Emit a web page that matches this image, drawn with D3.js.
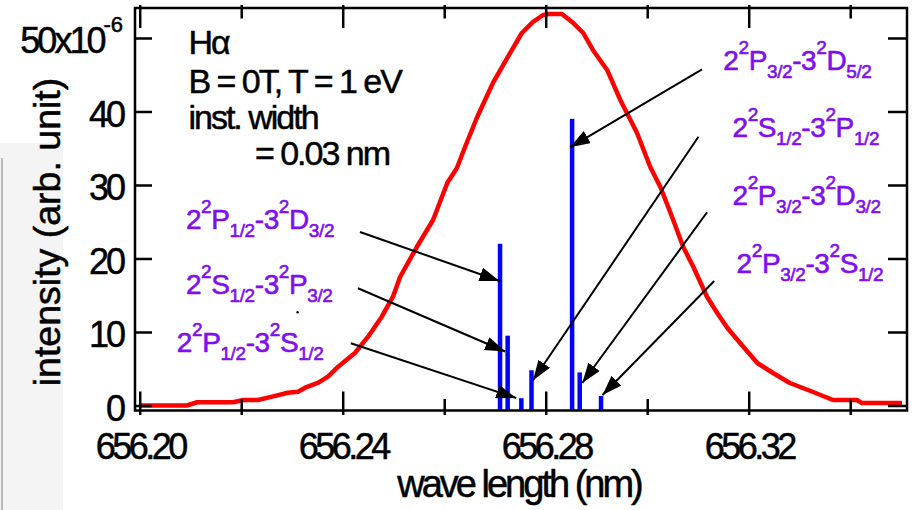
<!DOCTYPE html>
<html>
<head>
<meta charset="utf-8">
<script src="https://cdn.jsdelivr.net/npm/d3@7"></script>
<style>
  html, body { margin: 0; padding: 0; background: #ffffff; }
  svg { display: block; font-family: "Liberation Sans", Arial, Helvetica, sans-serif; }
</style>
</head>
<body>
<svg id="chart" width="914" height="510"></svg>
<script>
// ---- Hα line profile (wavelength in nm, intensity in units of 1e-6) ----
const profileWavelength = [
  656.2000, 656.2093, 656.2113, 656.2184, 656.2204, 656.2233, 656.2261, 656.2292,
  656.2312, 656.2326, 656.2352, 656.2371, 656.2391, 656.2424, 656.2450, 656.2477,
  656.2499, 656.2513, 656.2546, 656.2578, 656.2606, 656.2625, 656.2641, 656.2665,
  656.2696, 656.2730, 656.2753, 656.2775, 656.2795, 656.2805, 656.2832, 656.2852,
  656.2874, 656.2893, 656.2921, 656.2947, 656.2980, 656.3006, 656.3026, 656.3049,
  656.3071, 656.3091, 656.3118, 656.3138, 656.3158, 656.3183, 656.3217, 656.3248,
  656.3281, 656.3327, 656.3366, 656.3413, 656.3423, 656.3502
];
const profileIntensity = [
  0.00, 0.00, 0.44, 0.44, 0.75, 0.75, 1.20, 1.74,
  1.88, 2.42, 3.10, 3.92, 5.28, 7.14, 9.36, 12.08,
  14.80, 17.48, 21.56, 25.24, 30.27, 32.31, 35.17, 39.25,
  43.88, 47.96, 50.68, 52.18, 53.13, 53.27, 53.27, 52.18,
  50.68, 48.37, 45.65, 41.56, 37.07, 32.45, 29.73, 25.65,
  21.56, 18.84, 14.76, 12.59, 10.54, 8.50, 5.78, 4.42,
  3.06, 1.84, 0.75, 0.75, 0.34, 0.34
];

// ---- Fine-structure components ----
const componentWavelength = [656.2710, 656.2725, 656.2752, 656.2772, 656.2852, 656.2867, 656.2909];
const componentIntensity  = [22.0, 9.5, 1.0, 4.8, 39.0, 4.5, 1.3];
const componentNames = [
  "2^{2}P_{1/2}-3^{2}D_{3/2}",
  "2^{2}S_{1/2}-3^{2}P_{3/2}",
  "2^{2}P_{1/2}-3^{2}S_{1/2}",
  "2^{2}S_{1/2}-3^{2}P_{1/2}",
  "2^{2}P_{3/2}-3^{2}D_{5/2}",
  "2^{2}P_{3/2}-3^{2}D_{3/2}",
  "2^{2}P_{3/2}-3^{2}S_{1/2}"
];

// ---- Axis ticks ----
const xTickValues = [656.20, 656.24, 656.28, 656.32];
const xTickLabels = ["656.20", "656.24", "656.28", "656.32"];
const xMinorTicks = [656.22, 656.26, 656.30, 656.34];
const yTickValues = [0, 10, 20, 30, 40, 50];
const yTickLabels = ["0", "10", "20", "30", "40", "50x10"];
const yTopExponent = "-6";

// ---- Notes in the upper-left corner ----
const noteLines = ["H\u03b1", "B = 0T, T = 1 eV", "inst. width", "= 0.03 nm"];

// ---- Annotation layout, in data coordinates (wavelength, intensity) ----
// label: left edge / baseline; arrow: tail -> head
const labelAnchor = [
  [656.2091, 23.97], [656.2091, 15.17], [656.2073, 7.32], [656.3168, 36.49],
  [656.3150, 45.65], [656.3168, 27.28], [656.3176, 18.07]
];
const arrowTail = [
  [656.2434, 23.61], [656.2430, 15.95], [656.2416, 8.46], [656.3101, 36.57],
  [656.3108, 45.74], [656.3118, 26.29], [656.3132, 16.94]
];
const arrowHead = [
  [656.2709, 16.94], [656.2720, 7.35], [656.2742, 1.02], [656.2775, 3.43],
  [656.2848, 35.13], [656.2872, 3.06], [656.2912, 1.43]
];
const noteAnchor = [
  [656.2096, 47.78], [656.2096, 42.56], [656.2096, 37.55], [656.2227, 32.72]
];
const strayDot = [656.2311, 12.68];

// ---- Layout ----
const plot = { left: 135, right: 907, top: 8, bottom: 410.5 };
const svg = d3.select("#chart");

const x = d3.scaleLinear().domain([656.19907, 656.35119]).range([plot.left, plot.right]);
const y = d3.scaleLinear().domain([-0.68, 54.08]).range([plot.bottom, plot.top]);

const purple = "#7f0fef";

// heavier text rendering: a thin outline in the fill colour
function heavy(sel, colour, w) {
  sel.attr("fill", colour).attr("stroke", colour).attr("stroke-width", w)
     .attr("stroke-linejoin", "round");
}

// light panel at the far left
svg.append("rect").attr("x", 0).attr("y", 143).attr("width", 63).attr("height", 367)
  .attr("fill", "#f4f4f4");
svg.append("line").attr("x1", 2).attr("x2", 2).attr("y1", 158).attr("y2", 510)
  .attr("stroke", "#a8a8a8").attr("stroke-width", 1.5);

// axis titles
svg.append("text")
  .attr("transform", `translate(60,232) rotate(-90)`)
  .attr("text-anchor", "middle")
  .attr("font-size", 37.5)
  .call(heavy, "#000", 0.5)
  .text("intensity (arb. unit)");

svg.append("text")
  .attr("x", (plot.left + plot.right) / 2 - 2)
  .attr("y", 497)
  .attr("text-anchor", "middle")
  .attr("font-size", 38)
  .attr("letter-spacing", "-3px")
  .call(heavy, "#000", 0.5)
  .text("wave length (nm)");

// profile
const profile = profileWavelength.map((w, i) => [w, profileIntensity[i]]);
svg.append("path")
  .datum(profile)
  .attr("fill", "none")
  .attr("stroke", "#ff0000")
  .attr("stroke-width", 4.5)
  .attr("stroke-linejoin", "round")
  .attr("d", d3.line().x(d => x(d[0])).y(d => y(d[1])));

// component sticks
svg.append("g").selectAll("rect")
  .data(componentWavelength.map((w, i) => [w, componentIntensity[i]]))
  .join("rect")
  .attr("x", d => x(d[0]) - 2.25)
  .attr("width", 4.5)
  .attr("y", d => y(d[1]))
  .attr("height", d => y.range()[0] - y(d[1]))
  .attr("fill", "#0000ff");

// arrow marker
svg.append("defs").append("marker")
  .attr("id", "arrowhead")
  .attr("viewBox", "0 0 20 14")
  .attr("refX", 20).attr("refY", 7)
  .attr("markerWidth", 20).attr("markerHeight", 14)
  .attr("markerUnits", "userSpaceOnUse")
  .attr("orient", "auto")
  .append("path").attr("d", "M0,0 L20,7 L0,14 Z").attr("fill", "#000");

svg.append("g").selectAll("line")
  .data(arrowTail.map((t, i) => [t, arrowHead[i]]))
  .join("line")
  .attr("x1", d => x(d[0][0])).attr("y1", d => y(d[0][1]))
  .attr("x2", d => x(d[1][0])).attr("y2", d => y(d[1][1]))
  .attr("stroke", "#000").attr("stroke-width", 2)
  .attr("marker-end", "url(#arrowhead)");

svg.append("circle").attr("cx", x(strayDot[0])).attr("cy", y(strayDot[1]))
  .attr("r", 1.2).attr("fill", "#000");

// term-symbol labels with super/subscripts
function addTerm(sel, str, size, small) {
  const re = /\^\{([^}]*)\}|_\{([^}]*)\}|([^^_]+)/g;
  let m, offset = 0;
  const supShift = -16, subShift = 8;
  while ((m = re.exec(str)) !== null) {
    let target, txt, fs;
    if (m[1] !== undefined) { target = supShift; txt = m[1]; fs = small; }
    else if (m[2] !== undefined) { target = subShift; txt = m[2]; fs = small; }
    else { target = 0; txt = m[3]; fs = size; }
    sel.append("tspan").attr("dy", target - offset).attr("font-size", fs).text(txt);
    offset = target;
  }
}

componentNames.forEach((name, i) => {
  const t = svg.append("text")
    .attr("x", x(labelAnchor[i][0]))
    .attr("y", y(labelAnchor[i][1]))
    .attr("letter-spacing", "-0.4px")
    .call(heavy, purple, 0.6);
  addTerm(t, name, 28, 19);
});

// notes
noteLines.forEach((line, i) => {
  svg.append("text")
    .attr("x", x(noteAnchor[i][0]))
    .attr("y", y(noteAnchor[i][1]))
    .attr("font-size", 34)
    .attr("letter-spacing", "-2px")
    .call(heavy, "#000", 0.5)
    .text(line);
});

// ---- Axes ----
function cleanAxis(g) {
  g.attr("font-size", null).attr("font-family", null);
  g.select(".domain").remove();
  g.selectAll(".tick line").attr("stroke", "#000").attr("stroke-width", 2.5);
}

// bottom, major ticks with labels
const gBottom = svg.append("g").attr("transform", `translate(0,${plot.bottom})`)
  .call(d3.axisBottom(x).tickValues(xTickValues).tickSizeInner(-19).tickSizeOuter(0)
    .tickFormat((d, i) => xTickLabels[i]))
  .call(cleanAxis);
gBottom.selectAll(".tick line").attr("y1", 4.5);
gBottom.selectAll(".tick text")
  .attr("y", 48.5).attr("dy", null)
  .attr("font-size", 36).attr("letter-spacing", "-3.5px")
  .call(heavy, "#000", 0.5);

// bottom, minor ticks
svg.append("g").attr("transform", `translate(0,${plot.bottom})`)
  .call(d3.axisBottom(x).tickValues(xMinorTicks).tickSizeInner(-11.5).tickSizeOuter(0).tickFormat(""))
  .call(cleanAxis)
  .selectAll(".tick line").attr("y1", 4.5);

// top, major and minor ticks
svg.append("g").attr("transform", `translate(0,${plot.top})`)
  .call(d3.axisTop(x).tickValues(xTickValues).tickSizeInner(-20).tickSizeOuter(0).tickFormat(""))
  .call(cleanAxis)
  .selectAll(".tick line").attr("y1", -3);
svg.append("g").attr("transform", `translate(0,${plot.top})`)
  .call(d3.axisTop(x).tickValues(xMinorTicks).tickSizeInner(-10.5).tickSizeOuter(0).tickFormat(""))
  .call(cleanAxis)
  .selectAll(".tick line").attr("y1", -3);

// left, with labels
const gLeft = svg.append("g").attr("transform", `translate(${plot.left},0)`)
  .call(d3.axisLeft(y).tickValues(yTickValues).tickSizeInner(-17).tickSizeOuter(0)
    .tickFormat((d, i) => yTickLabels[i]))
  .call(cleanAxis);
gLeft.selectAll(".tick text")
  .attr("x", -12).attr("dy", null).attr("y", 15)
  .attr("font-size", 36).attr("letter-spacing", "-3px")
  .call(heavy, "#000", 0.5)
  .each(function (d, i) {
    if (i === yTickValues.length - 1) {
      d3.select(this).append("tspan")
        .attr("dy", -21).attr("font-size", 22).attr("letter-spacing", "0px")
        .text(yTopExponent);
    }
  });

// right, ticks only
svg.append("g").attr("transform", `translate(${plot.right},0)`)
  .call(d3.axisRight(y).tickValues(yTickValues).tickSizeInner(-19).tickSizeOuter(0).tickFormat(""))
  .call(cleanAxis);

// frame
svg.append("rect")
  .attr("x", plot.left).attr("y", plot.top)
  .attr("width", plot.right - plot.left).attr("height", plot.bottom - plot.top)
  .attr("fill", "none").attr("stroke", "#000").attr("stroke-width", 2.5);
</script>
</body>
</html>
